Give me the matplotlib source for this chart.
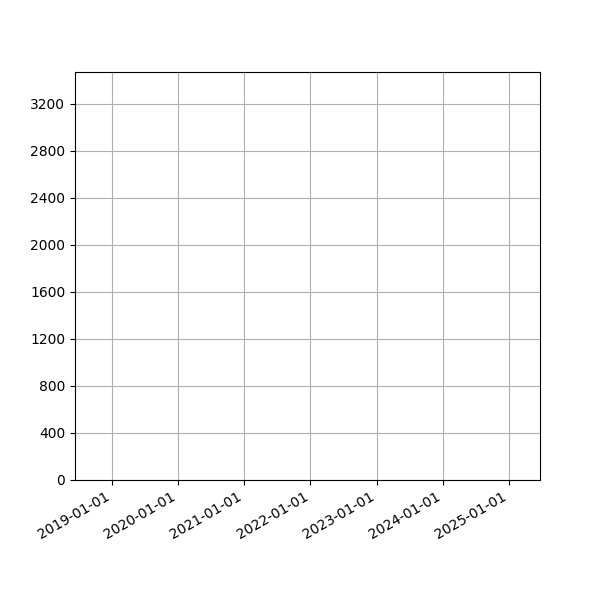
import datetime as dt
import matplotlib
matplotlib.use("Agg")
import matplotlib.pyplot as plt
import matplotlib.dates as mdates

# the reference shows no visible series, only the frame, grid and ticks
dates = []
values = []

x_start = dt.date(2018, 6, 11)
x_end = dt.date(2025, 6, 21)
y_max = 3472
year_ticks = [dt.date(y, 1, 1) for y in range(2019, 2026)]
y_ticks = list(range(0, 3201, 400))

fig, ax = plt.subplots(figsize=(6, 6), dpi=100)
ax.plot(dates, values)
ax.set_xlim(x_start, x_end)
ax.set_ylim(0, y_max)
ax.set_xticks(year_ticks)
ax.xaxis.set_major_formatter(mdates.DateFormatter('%Y-%m-%d'))
ax.set_yticks(y_ticks)
ax.grid(True)
fig.autofmt_xdate()
fig.savefig('out.png')
